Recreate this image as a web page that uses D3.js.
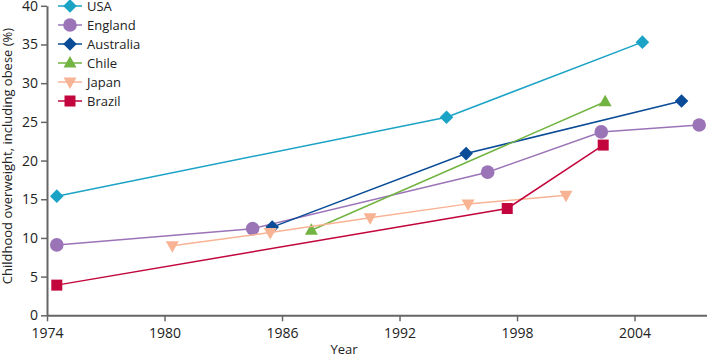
<!DOCTYPE html>
<html><head><meta charset="utf-8">
<script src="https://cdn.jsdelivr.net/npm/d3@7"></script>
<style>body{margin:0;background:#fff}svg{display:block}text{font-family:"Open Sans",sans-serif;fill:#222}</style>
</head><body><svg id="c" width="707" height="355"></svg>
<script>
const seriesNames = ["USA","England","Australia","Chile","Japan","Brazil"];
const usa = [[1974.5,15.4],[1994.4,25.6],[2004.4,35.3]];
const england = [[1974.5,9.1],[1984.5,11.2],[1996.5,18.5],[2002.3,23.7],[2007.3,24.6]];
const australia = [[1985.5,11.4],[1995.4,20.9],[2006.4,27.7]];
const chile = [[1987.5,11.0],[2002.5,27.6]];
const japan = [[1980.4,9.0],[1985.4,10.7],[1990.5,12.6],[1995.5,14.4],[2000.5,15.5]];
const brazil = [[1974.5,3.9],[1997.5,13.8],[2002.4,22.0]];
const xTicks = [1974,1980,1986,1992,1998,2004];
const yTicks = [0,5,10,15,20,25,30,35,40];

const colors = ["#1ba3c6","#9b74b8","#0a4c97","#72b442","#f8b394","#c2053c"];
const shapes = ["diamond","circle","diamond","triangle","tridown","square"];
const data = [usa,england,australia,chile,japan,brazil];

const svg = d3.select("#c");
const x = d3.scaleLinear().domain([1974,2007.7]).range([47,707]);
const y = d3.scaleLinear().domain([0,40]).range([315.3,5.8]);

const axisColor = "#666";
const gx = svg.append("g").attr("transform",`translate(0,${y(0)})`)
  .call(d3.axisBottom(x).tickValues(xTicks).tickFormat(d3.format("d")).tickSize(6).tickSizeOuter(0));
const gy = svg.append("g").attr("transform",`translate(${x(1974)},0)`)
  .call(d3.axisLeft(y).tickValues(yTicks).tickSize(6).tickSizeOuter(0));
[gx,gy].forEach(g=>{
  g.select(".domain").attr("stroke",axisColor).attr("stroke-width",2);
  g.selectAll(".tick line").attr("stroke",axisColor).attr("stroke-width",1.5);
  g.selectAll(".tick text").attr("font-size",14).attr("fill","#222").style("font-family","'Open Sans',sans-serif");
});
gx.selectAll(".tick text").attr("dy","0.95em");
gy.selectAll(".tick text").attr("x",-9);

svg.append("text").attr("x",344).attr("y",354).attr("text-anchor","middle").attr("font-size",13).text("Year");
svg.append("text").attr("transform","translate(12,156) rotate(-90)").attr("text-anchor","middle").attr("font-size",13).text("Childhood overweight, including obese (%)");

function marker(g, shape, color, cx, cy){
  if(shape==="circle") g.append("circle").attr("cx",cx).attr("cy",cy).attr("r",6.8).attr("fill",color);
  else if(shape==="diamond") g.append("path").attr("d",`M${cx},${cy-6.8}L${cx+6.8},${cy}L${cx},${cy+6.8}L${cx-6.8},${cy}Z`).attr("fill",color);
  else if(shape==="square") g.append("rect").attr("x",cx-5.5).attr("y",cy-5.5).attr("width",11).attr("height",11).attr("fill",color);
  else if(shape==="triangle") g.append("path").attr("d",`M${cx},${cy-7}L${cx+6.5},${cy+4.5}L${cx-6.5},${cy+4.5}Z`).attr("fill",color);
  else if(shape==="tridown") g.append("path").attr("d",`M${cx},${cy+7}L${cx+6.5},${cy-4.5}L${cx-6.5},${cy-4.5}Z`).attr("fill",color);
}

const line = d3.line().x(d=>x(d[0])).y(d=>y(d[1]));
data.forEach((s,i)=>{
  const g = svg.append("g");
  g.append("path").attr("d",line(s)).attr("fill","none").attr("stroke",colors[i]).attr("stroke-width",1.5);
  s.forEach(d=>marker(g,shapes[i],colors[i],x(d[0]),y(d[1])));
});

// legend
seriesNames.forEach((n,i)=>{
  const ly = 6 + i*19;
  const g = svg.append("g");
  g.append("line").attr("x1",58).attr("x2",82).attr("y1",ly).attr("y2",ly).attr("stroke",colors[i]).attr("stroke-width",1.5);
  marker(g,shapes[i],colors[i],70,ly);
  g.append("text").attr("x",87).attr("y",ly).attr("dy","0.35em").attr("font-size",13).text(n);
});
</script></body></html>
